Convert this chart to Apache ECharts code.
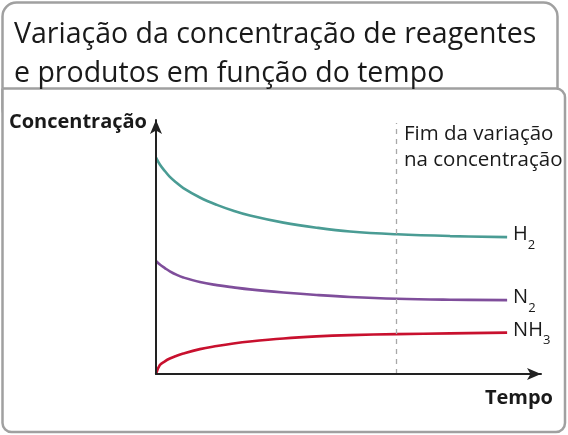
<!DOCTYPE html>
<html>
<head>
<meta charset="utf-8">
<script src="https://cdn.jsdelivr.net/npm/echarts@6/dist/echarts.min.js"></script>
<style>
html,body{margin:0;padding:0;background:#fff;}
#c{width:568px;height:435px;}
</style>
</head>
<body>
<div id="c"></div>
<script>
// Time (arbitrary units, 0-100 along the axis)
var tempo = [0, 1, 2.3, 3.6, 5.4, 7.1, 11.4, 15.8, 20.1, 24.4, 33.1, 41.7, 50.4, 62.6, 76.4, 91.2];
// Concentrations (arbitrary units, 0-100 along the axis)
var h2  = [85.2, 82.5, 79.9, 77.6, 75.2, 73.2, 69.5, 66.6, 64.3, 62.4, 59.6, 57.6, 56.1, 55.0, 54.3, 53.9];
var n2  = [44.5, 43.1, 41.7, 40.4, 39.0, 38.0, 36.2, 35.0, 34.1, 33.3, 32.1, 31.1, 30.3, 29.6, 29.25, 29.1];
var nh3 = [0, 3.5, 5.0, 6.1, 7.2, 8.1, 9.8, 11.0, 12.0, 12.8, 14.0, 14.8, 15.3, 15.7, 16.0, 16.3];
var fimVariacao = 62.5;
var tituloTexto = 'Variação da concentração de reagentes\ne produtos em função do tempo';
var notaTexto = 'Fim da variação\nna concentração';
var nomeY = 'Concentração';
var nomeX = 'Tempo';
var rotulos = ['{a|H}{b|2}', '{a|N}{b|2}', '{a|NH}{b|3}'];

function pts(ys){ return tempo.map(function(t,i){ return [t, ys[i]]; }); }

var FONT = 'Open Sans';
var rich = {
  a: {fontFamily: FONT, fontSize: 20, lineHeight: 27, verticalAlign: 'top', color: '#1a1a1a'},
  b: {fontFamily: FONT, fontSize: 13, lineHeight: 13, verticalAlign: 'bottom', color: '#1a1a1a'}
};
function serie(nome, ys, cor, rot){
  return {
    name: nome, type: 'line', data: pts(ys), smooth: 0.4, showSymbol: false,
    lineStyle: {color: cor, width: 2.6}, itemStyle: {color: cor}, z: 4,
    endLabel: {show: true, formatter: rot, distance: 6, offset: [0, 1], rich: rich},
    silent: true
  };
}

var chart = echarts.init(document.getElementById('c'), null, {renderer: 'canvas'});
var s1 = serie('H2', h2, '#4a9c94', rotulos[0]);
s1.markLine = {
  silent: true, symbol: 'none', label: {show: false},
  lineStyle: {type: [5, 5], color: '#a8a8a8', width: 1.3},
  data: [[{coord: [fimVariacao, 0]}, {coord: [fimVariacao, 98.8]}]]
};
function eixo(nome, estiloNome, gap){
  return {
    type: 'value', min: 0, max: 100, z: 5,
    name: nome, nameLocation: 'end', nameGap: gap, nameTextStyle: estiloNome,
    axisLine: {show: true, onZero: false, symbol: ['none', 'arrow'], symbolSize: [9, 14],
               lineStyle: {color: '#222', width: 2}},
    axisTick: {show: false}, axisLabel: {show: false}, splitLine: {show: false}
  };
}
chart.setOption({
  animation: false,
  backgroundColor: '#fff',
  graphic: [
    {type: 'rect', z: 0, shape: {x: 2.5, y: 2.5, width: 555, height: 120, r: 14},
     style: {fill: '#fff', stroke: '#a0a0a0', lineWidth: 2.5}},
    {type: 'rect', z: 1, shape: {x: 2.5, y: 88.5, width: 562.5, height: 343.5, r: [0, 9, 9, 9]},
     style: {fill: '#fff', stroke: '#a0a0a0', lineWidth: 2.5}}
  ],
  title: [
    {text: tituloTexto, left: 14, top: 15, padding: 0, z: 8,
     textStyle: {fontFamily: FONT, fontSize: 28.5, fontWeight: 500, lineHeight: 39, color: '#1a1a1a'}},
    {text: notaTexto, left: 404, top: 120.5, padding: 0, z: 8,
     textStyle: {fontFamily: FONT, fontSize: 20.5, fontWeight: 'normal', lineHeight: 26.5, color: '#1a1a1a'}}
  ],
  grid: {left: 156, right: 27, top: 120, bottom: 61},
  xAxis: eixo(nomeX, {fontFamily: FONT, fontSize: 20, fontWeight: 'bold', color: '#1a1a1a',
                      align: 'right', verticalAlign: 'top', padding: [14, 0, 0, 0]}, 12),
  yAxis: eixo(nomeY, {fontFamily: FONT, fontSize: 20, fontWeight: 'bold', color: '#1a1a1a',
                      align: 'right', verticalAlign: 'middle', padding: [0, 9, 0, 0]}, -2),
  series: [s1, serie('N2', n2, '#7f4e9b', rotulos[1]), serie('NH3', nh3, '#c8102e', rotulos[2])]
});
</script>
</body>
</html>
